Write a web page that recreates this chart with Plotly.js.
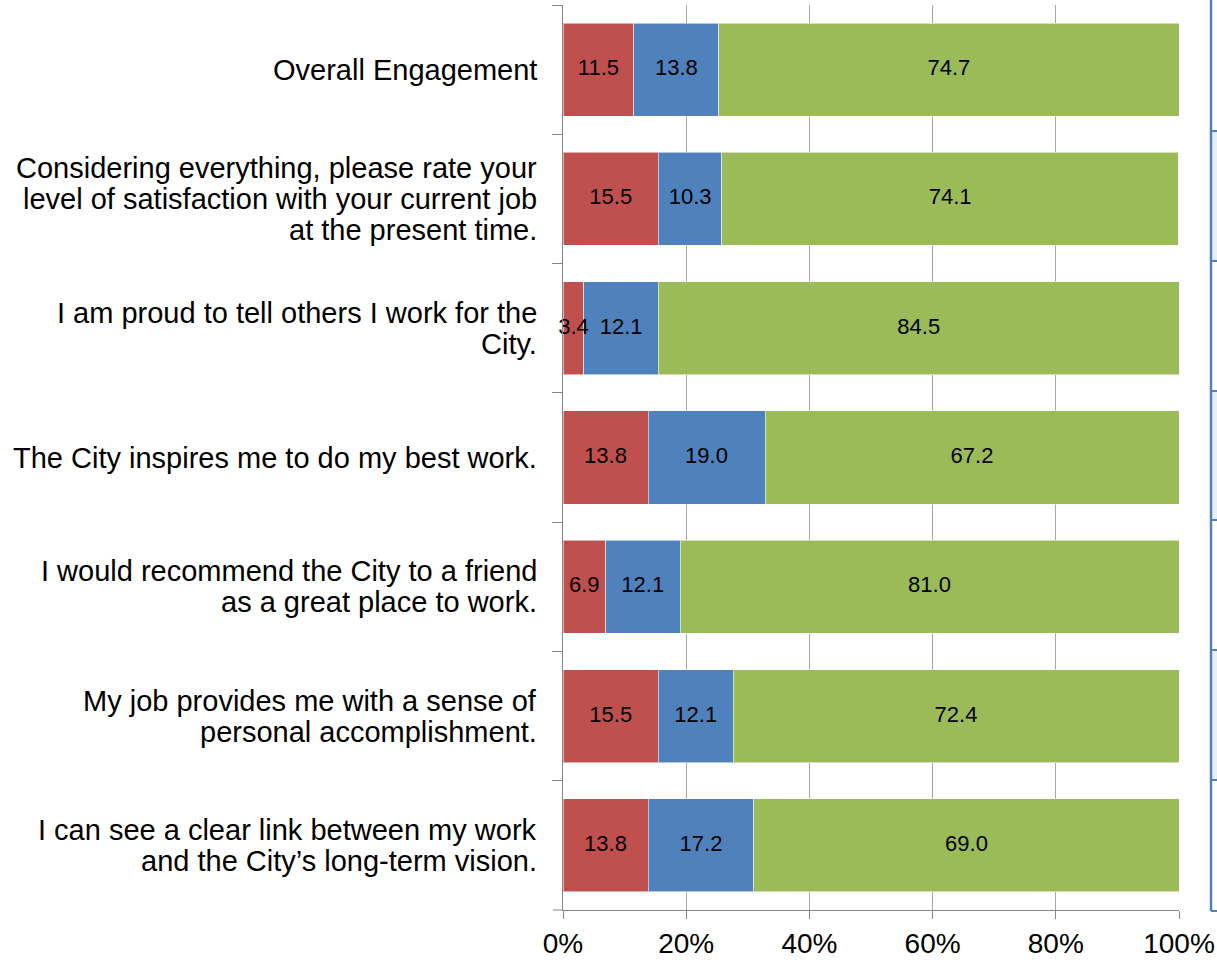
<!DOCTYPE html>
<html>
<head>
<meta charset="utf-8">
<script src="https://cdn.plot.ly/plotly-3.0.1.min.js"></script>
<style>html,body{margin:0;padding:0;background:#fff;}#chart{width:1217px;height:960px;}</style>
</head>
<body>
<div id="chart"></div>
<script>
const categories = [
  "Overall Engagement",
  "Considering everything, please rate your<br>level of satisfaction with your current job<br>at the present time.",
  "I am proud to tell others I work for the<br>City.",
  "The City inspires me to do my best work.",
  "I would recommend the City to a friend<br>as a great place to work.",
  "My job provides me with a sense of<br>personal accomplishment.",
  "I can see a clear link between my work<br>and the City\u2019s long-term vision."
];
const unfavourable = [11.5, 15.5, 3.4, 13.8, 6.9, 15.5, 13.8];
const neutral = [13.8, 10.3, 12.1, 19.0, 12.1, 12.1, 17.2];
const favourable = [74.7, 74.1, 84.5, 67.2, 81.0, 72.4, 69.0];
const xTickVals = [0, 20, 40, 60, 80, 100];
const xTickText = ["0%", "20%", "40%", "60%", "80%", "100%"];

const FONT = 'Liberation Sans, Arial, sans-serif';

function mk(vals, color, name) {
  return {
    type: 'bar', orientation: 'h', name: name,
    x: vals, y: categories,
    marker: {color: color, line: {color: 'rgba(255,255,255,0.55)', width: 1}},
    hoverinfo: 'skip'
  };
}
const series = [unfavourable, neutral, favourable];
const data = [
  mk(unfavourable, '#c0504d', 'Unfavourable'),
  mk(neutral, '#4f81bd', 'Neutral'),
  mk(favourable, '#9bbb59', 'Favourable')
];

// value labels drawn on top of all bars, centred in each segment
const lx = [], ly = [], lt = [];
categories.forEach((cat, i) => {
  let base = 0;
  series.forEach(s => {
    lx.push(base + s[i] / 2);
    ly.push(cat);
    lt.push(s[i].toFixed(1));
    base += s[i];
  });
});
data.push({
  type: 'scatter', mode: 'text', x: lx, y: ly, text: lt,
  textposition: 'middle center',
  textfont: {family: FONT, size: 22, color: '#000'},
  hoverinfo: 'skip', cliponaxis: false, showlegend: false
});

// category labels as annotations (tight line spacing)
const LINE = 31;
const annotations = [];
categories.forEach(cat => {
  const lines = cat.split('<br>');
  const n = lines.length;
  lines.forEach((ln, k) => {
    annotations.push({
      xref: 'paper', yref: 'y', x: 0, y: cat,
      xanchor: 'right', yanchor: 'middle', xshift: -24,
      yshift: ((n - 1) / 2 - k) * LINE,
      text: ln, showarrow: false, align: 'right',
      font: {family: FONT, size: 29, color: '#000'}
    });
  });
});

// right-hand cut-off table frame
const pxX = px => (px - 563) / (1179 - 563);
const pxY = py => (910 - py) / (910 - 5);
const rowB = [0, 131, 261, 391, 520, 650, 780, 911];
const shapes = [];
for (let i = 0; i < rowB.length - 1; i++) {
  if (i % 2 === 1) {
    shapes.push({type: 'rect', xref: 'paper', yref: 'paper', x0: pxX(1211), x1: pxX(1230), y0: pxY(rowB[i]), y1: pxY(rowB[i+1]), fillcolor: '#e9eef6', line: {width: 0}, layer: 'below'});
  }
}
for (let i = 1; i < rowB.length; i++) {
  shapes.push({type: 'line', xref: 'paper', yref: 'paper', x0: pxX(1211), x1: pxX(1230), y0: pxY(rowB[i]), y1: pxY(rowB[i]), line: {color: '#4f81bd', width: 2}});
}
shapes.push({type: 'line', xref: 'paper', yref: 'paper', x0: pxX(1211), x1: pxX(1211), y0: pxY(0), y1: pxY(911), line: {color: '#4f81bd', width: 2.5}});
// x axis line extension to the left
shapes.push({type: 'line', xref: 'paper', yref: 'paper', x0: pxX(553), x1: 0, y0: 0, y1: 0, line: {color: '#868686', width: 1}});

const layout = {
  width: 1217, height: 960,
  margin: {l: 563, r: 38, t: 5, b: 50},
  paper_bgcolor: '#fff', plot_bgcolor: '#fff',
  barmode: 'stack', bargap: 0.28,
  showlegend: false,
  font: {family: FONT, color: '#000'},
  xaxis: {
    range: [0, 100], tickvals: xTickVals, ticktext: xTickText,
    showgrid: true, gridcolor: '#a6a6a6', gridwidth: 1,
    zeroline: false, showline: true, linecolor: '#868686', linewidth: 1,
    ticks: 'outside', ticklen: 8, tickcolor: '#868686', tickwidth: 1,
    tickfont: {size: 28, color: '#000'}, fixedrange: true
  },
  yaxis: {
    type: 'category', autorange: 'reversed',
    showgrid: false, zeroline: false, showline: true, linecolor: '#868686', linewidth: 1,
    ticks: 'outside', tickson: 'boundaries', ticklen: 10, tickcolor: '#868686', tickwidth: 1,
    showticklabels: false, fixedrange: true
  },
  annotations: annotations,
  shapes: shapes
};
Plotly.newPlot('chart', data, layout, {displayModeBar: false, staticPlot: true});
</script>
</body>
</html>
